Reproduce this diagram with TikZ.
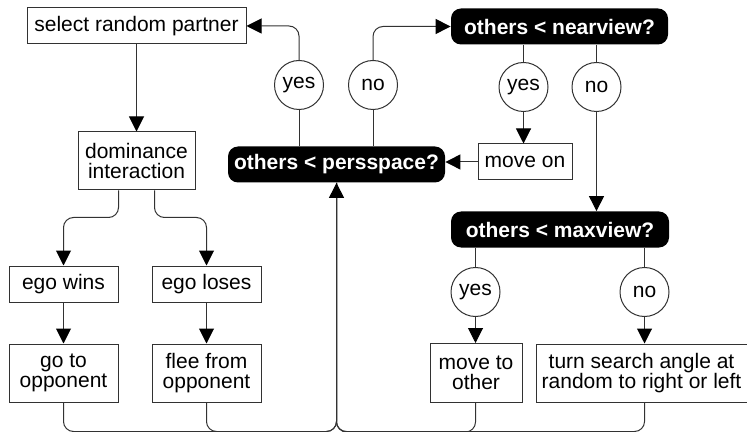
\documentclass[tikz,border=0pt]{standalone}
\usepackage{fontspec}
\setmainfont{Liberation Sans}
\usepackage{tikz}
\usetikzlibrary{arrows.meta,calc,positioning,shapes.geometric}
\definecolor{linecolor}{RGB}{50,50,50}

\begin{document}
\begin{tikzpicture}[x=0.5pt,y=-0.5pt,font=\fontsize{10.5}{10.3}\selectfont]
  \tikzset{actbox/.style={draw=linecolor,line width=0.5pt,inner sep=0pt,align=center},
           askbox/.style={fill=black,text=white,font=\fontsize{10.5}{10.3}\selectfont\bfseries,rounded corners=5pt,inner sep=0pt,minimum height=18pt},
           answer/.style={draw=linecolor,line width=0.5pt,circle,fill=white,inner sep=0pt,minimum size=24.5pt},
           link/.style={draw=linecolor,line width=0.5pt,rounded corners=5pt},
           arr/.style={link,-{Triangle[length=7.5pt,width=7.5pt,color=black]}}}
  \useasboundingbox (0,0) rectangle (747,432);
  % ---------------- partner and dominance
  \node[actbox,minimum width=109.5pt,minimum height=18pt] (select) at (136.5,26) {select random partner};
  \node[actbox,minimum width=58.5pt,minimum height=29pt] (domin) at (136.5,161) {dominance\\interaction};
  \node[actbox,minimum width=54.5pt,minimum height=18pt] (wins) at (63.5,284) {ego wins};
  \node[actbox,minimum width=54.5pt,minimum height=18pt] (loses) at (206.5,284) {ego loses};
  \node[actbox,minimum width=54.5pt,minimum height=29pt] (goto) at (63.5,373) {go to\\opponent};
  \node[actbox,minimum width=54.5pt,minimum height=29pt] (flee) at (206.5,373) {flee from\\opponent};
  % ---------------- questions
  \node[askbox,minimum width=108.5pt] (persq) at (336.5,164.5) {others < persspace?};
  \node[askbox,minimum width=108.5pt] (nearq) at (559.5,26.5) {others < nearview?};
  \node[askbox,minimum width=109pt] (maxq) at (560,229.5) {others < maxview?};
  \node[actbox,minimum width=47pt,minimum height=18pt] (moveon) at (525,162) {move on};
  \node[actbox,minimum width=46pt,minimum height=29.5pt] (moveto) at (476,373) {move to\\other};
  \node[actbox,minimum width=105.5pt,minimum height=29pt] (turn) at (641.5,373) {turn search angle at\\random to right or left};
  % ---------------- answers
  \node[answer] (persyes) at (299,85) {yes};
  \node[answer] (persno) at (373,85) {no};
  \node[answer] (nearyes) at (523.5,87) {yes};
  \node[answer] (nearno) at (596.5,87) {no};
  \node[answer] (maxyes) at (475.5,292) {yes};
  \node[answer] (maxno) at (644.5,292) {no};
  % ---------------- connectors
  \draw[arr] (select.south) -- (select.south |- domin.north);
  \draw[arr] ([xshift=-9pt]domin.south) -- ++(0,27) -| (wins.north);
  \draw[arr] ([xshift=9pt]domin.south) -- ++(0,27) -| (loses.north);
  \draw[arr] (wins.south) -- (goto.north);
  \draw[arr] (loses.south) -- (flee.north);
  \draw[link] (persyes |- persq.north) -- (persyes.south);
  \draw[arr] (persyes.north) |- (select.east);
  \draw[link] (persno |- persq.north) -- (persno.south);
  \draw[arr] (persno.north) |- (nearq.west);
  \draw[link] (nearyes |- nearq.south) -- (nearyes.north);
  \draw[arr] (nearyes.south) -- (nearyes |- moveon.north);
  \draw[link] (nearno |- nearq.south) -- (nearno.north);
  \draw[arr] (nearno.south) -- (nearno |- maxq.north);
  \draw[arr] (moveon.west) -- (moveon.west -| persq.east);
  \draw[link] (maxyes |- maxq.south) -- (maxyes.north);
  \draw[arr] (maxyes.south) -- (maxyes |- moveto.north);
  \draw[link] (maxno |- maxq.south) -- (maxno.north);
  \draw[arr] (maxno.south) -- (maxno |- turn.north);
  % ---------------- back to the start
  \draw[link] (goto.south) -- ++(0,29) -| (persq.south);
  \draw[link] (flee.south) -- ++(0,29) -| (persq.south);
  \draw[link] (maxyes |- moveto.south) -- ++(0,29) -| (persq.south);
  \draw[arr] (maxno |- turn.south) -- ++(0,29) -| (persq.south);
\end{tikzpicture}
\end{document}
